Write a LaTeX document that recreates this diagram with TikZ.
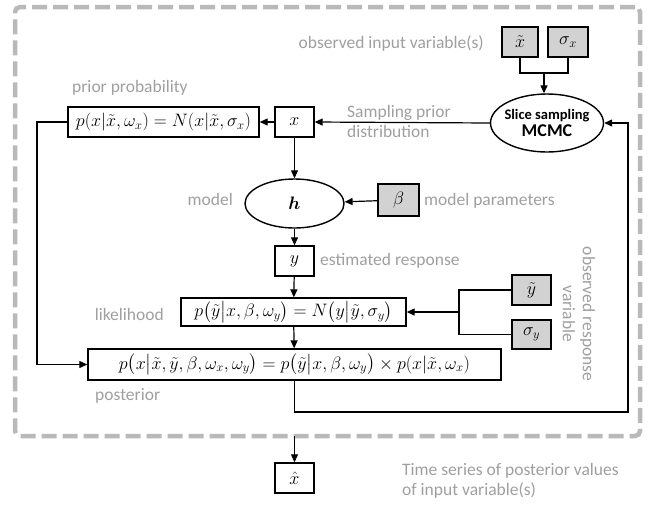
\RequirePackage{fix-cm}
\documentclass[tikz,border=0pt]{standalone}
\usepackage{amsmath}
\usepackage{bm}
\usepackage{fontspec}
\setmainfont{Carlito}
\usetikzlibrary{arrows.meta,shapes.geometric}

\tikzset{
  var/.style={draw, line width=1.4pt, minimum width=39pt, minimum height=30pt, inner sep=2pt, font=\fontsize{18}{20}\selectfont},
  obs/.style={var, fill=gray!35},
  eqbox/.style={draw, line width=1.4pt, minimum height=30pt, inner sep=3pt, font=\fontsize{18}{20}\selectfont},
  lbl/.style={text=gray!75, inner sep=0pt, font=\fontsize{17.5}{20}\selectfont},
  link/.style={line width=1.2pt, -{Triangle[length=8pt,width=7pt]}},
  wire/.style={line width=1.2pt}
}

\begin{document}
\begin{tikzpicture}[x=1pt, y=-1pt]
    \useasboundingbox (0,0) rectangle (652,504);

    % Outer dashed frame
    \node[draw=gray!55, line width=4.5pt, dash pattern=on 15pt off 6pt, rounded corners=5pt, minimum width=625pt, minimum height=429pt, anchor=north west, inner sep=0pt, outer sep=0pt] (frame) at (15,7) {};

    % Observed input variables and the sampler
    \node[obs, minimum width=36pt] (xt) at (520,42) {$\tilde{x}$};
    \node[obs, minimum width=40pt] (sx) at (568,42) {$\sigma_x$};
    \node[lbl, anchor=east] (obsin) at (484,44) {observed input variable(s)};
    \node[ellipse, draw, line width=1.4pt, minimum width=113pt, minimum height=58pt, inner sep=0pt] (mcmc) at (547,123) {};
    \node[align=center, inner sep=0pt] (mcmctxt) at (mcmc) {%
      {\fontsize{14.5}{16}\selectfont\bfseries Slice sampling}\\[1pt]
      {\fontsize{18}{20}\selectfont\bfseries MCMC}};
    \coordinate (join) at (544,73);

    % Prior
    \node[eqbox, minimum width=191pt] (prior) at (163.5,122) {$p(x|\tilde{x},\omega_x) = N(x|\tilde{x},\sigma_x)$};
    \node[var] (x) at (294.5,122) {$x$};
    \node[lbl, anchor=west, align=left] (samplbl) at (347,121) {Sampling prior\\distribution};
    \node[lbl, anchor=west] (priorlbl) at (72,88) {prior probability};

    % Model
    \node[ellipse, draw, line width=1.4pt, minimum width=99pt, minimum height=49pt, inner sep=0pt, font=\fontsize{18}{20}\selectfont] (h) at (294.5,203.5) {$\bm{h}$};
    \node[lbl, anchor=east] (modellbl) at (233,199) {model};
    \node[obs, minimum width=41pt, minimum height=32pt] (beta) at (398.5,200) {$\beta$};
    \node[lbl, anchor=west] (paramlbl) at (424,201) {model parameters};
    \node[var] (y) at (294.5,261) {$y$};
    \node[lbl, anchor=west] (estlbl) at (320,261) {estimated response};

    % Likelihood
    \node[eqbox, minimum width=225pt, minimum height=28pt] (lik) at (293.5,312) {$p\bigl(\tilde{y}\big|x,\beta,\omega_y\bigr) = N\bigl(y\big|\tilde{y},\sigma_y\bigr)$};
    \node[lbl, anchor=east] (liklbl) at (164,314) {likelihood};
    \node[obs] (yt) at (531.5,290) {$\tilde{y}$};
    \node[obs, minimum height=29pt] (sy) at (531.5,334.5) {$\sigma_y$};
    \node[lbl, rotate=-90, align=center] (obsout) at (579,314) {observed response\\variable};
    \coordinate (ysplit) at (459,312);

    % Posterior
    \node[eqbox, minimum width=413pt, minimum height=31pt] (post) at (294.5,364.5) {$p\bigl(x\big|\tilde{x},\tilde{y},\beta,\omega_x,\omega_y\bigr) = p\bigl(\tilde{y}\big|x,\beta,\omega_y\bigr)\times p(x|\tilde{x},\omega_x)$};
    \node[lbl, anchor=west] (postlbl) at (95,396) {posterior};
    \coordinate (leftrail) at (37,364.5);
    \coordinate (botrail) at (628,412);

    % Output
    \node[var] (xhat) at (294.5,478) {$\hat{x}$};
    \node[lbl, anchor=west, align=left] (outlbl) at (402,481) {Time series of posterior values\\of input variable(s)};

    % Connectors
    \draw[wire] (xt.south) |- (join) -| (sx.south);
    \draw[link] (join) -- (join |- mcmc.north);
    \draw[link] (mcmc.west) -- (x.east);
    \draw[link] (x.west) -- (prior.east);
    \draw[link] (x) -- (h);
    \draw[link] (beta) -- (h);
    \draw[link] (h) -- (y);
    \draw[link] (y) -- (lik);
    \draw[wire] (yt.west) -| (ysplit) |- (sy.west);
    \draw[link] (ysplit) -- (lik.east);
    \draw[link] (lik) -- (post);
    \draw[link] (prior.west) -| (leftrail) -- (post.west);
    \draw[link] (post.south) |- (botrail) |- (mcmc.east);
    \draw[link] (xhat.north |- frame.south) -- (xhat.north);
\end{tikzpicture}
\end{document}
